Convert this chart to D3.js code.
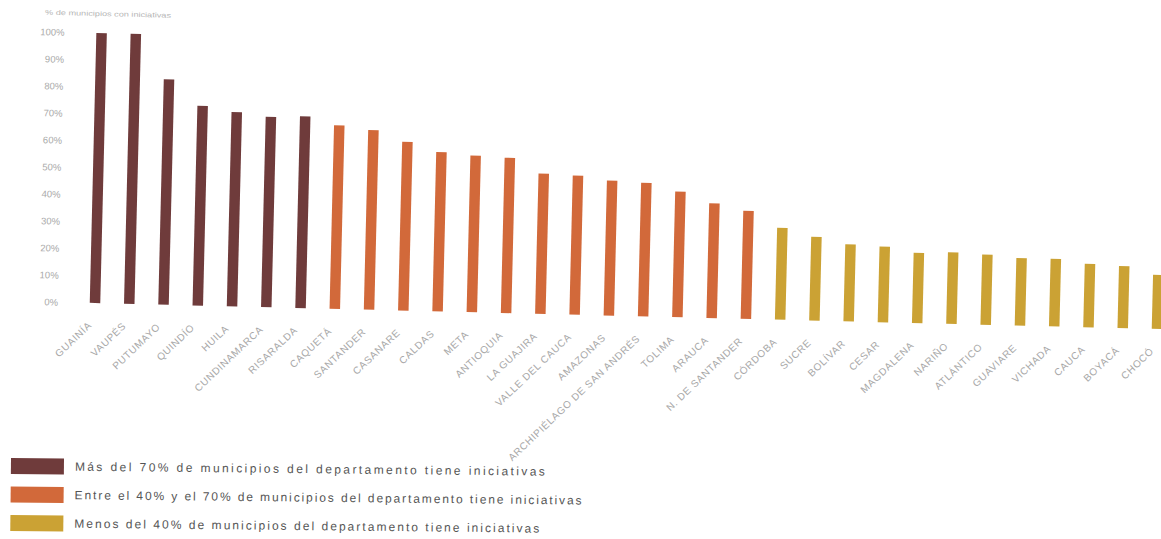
<!DOCTYPE html>
<html>
<head>
<meta charset="utf-8">
<script src="https://cdn.jsdelivr.net/npm/d3@7"></script>
<style>
  html, body { margin: 0; padding: 0; background: #fff; }
  svg { display: block; font-family: "Liberation Sans", Arial, sans-serif; }
</style>
</head>
<body>
<svg id="chart" width="1161" height="539"></svg>
<script>
// ---- Data ----
const categories = [
  "GUAINÍA", "VAUPÉS", "PUTUMAYO", "QUINDÍO", "HUILA", "CUNDINAMARCA", "RISARALDA",
  "CAQUETÁ", "SANTANDER", "CASANARE", "CALDAS", "META", "ANTIOQUIA", "LA GUAJIRA",
  "VALLE DEL CAUCA", "AMAZONAS", "ARCHIPIÉLAGO DE SAN ANDRÉS", "TOLIMA", "ARAUCA",
  "N. DE SANTANDER", "CÓRDOBA", "SUCRE", "BOLÍVAR", "CESAR", "MAGDALENA", "NARIÑO",
  "ATLÁNTICO", "GUAVIARE", "VICHADA", "CAUCA", "BOYACÁ", "CHOCÓ"
];
const values = [
  100, 100, 83.5, 74, 72, 70.5, 71,
  68, 66.5, 62.5, 59, 58, 57.5, 52,
  51.5, 50, 49.5, 46.5, 42.5, 40,
  34, 31, 28.5, 28, 26, 26.5,
  26, 25, 25, 23.5, 23, 20
];
const groups = [
  "alto", "alto", "alto", "alto", "alto", "alto", "alto",
  "medio", "medio", "medio", "medio", "medio", "medio", "medio",
  "medio", "medio", "medio", "medio", "medio", "medio",
  "bajo", "bajo", "bajo", "bajo", "bajo", "bajo",
  "bajo", "bajo", "bajo", "bajo", "bajo", "bajo"
];
const groupKeys = ["alto", "medio", "bajo"];
const groupColors = ["#6f3b3b", "#d2693a", "#cba234"];
const legendLabels = [
  "Más del 70% de municipios del departamento tiene iniciativas",
  "Entre el 40% y el 70% de municipios del departamento tiene iniciativas",
  "Menos del 40% de municipios del departamento tiene iniciativas"
];
const yTicks = [0, 10, 20, 30, 40, 50, 60, 70, 80, 90, 100];
const axisTitle = "% de municipios con iniciativas";

// ---- Layout ----
const svg = d3.select("#chart");
const baseX = 95, baseY = 303, topY = 33;
const tilt = 1.4;

const x = d3.scalePoint().domain(categories).range([baseX, baseX + 1062.3]);
const y = d3.scaleLinear().domain([0, 100]).range([baseY, topY]);
const color = d3.scaleOrdinal().domain(groupKeys).range(groupColors);

const g = svg.append("g").attr("transform", `rotate(${tilt},${baseX},${baseY})`);

// axis title
g.append("text")
  .attr("x", 38).attr("y", 16)
  .attr("font-size", 7).attr("fill", "#b5b5b5")
  .attr("textLength", 126).attr("lengthAdjust", "spacingAndGlyphs")
  .text(axisTitle);

// y axis
const yAxis = d3.axisLeft(y).tickValues(yTicks).tickFormat(d => d + "%").tickSize(0).tickPadding(0);
const ya = g.append("g").attr("transform", "translate(58,0)").call(yAxis);
ya.select(".domain").remove();
ya.selectAll("text").attr("fill", "#aaaaaa").attr("font-size", 9.5)
  .attr("font-family", "'Liberation Sans', Arial, sans-serif");

// bars
const barW = 10.5;
g.selectAll("rect.bar").data(categories).join("rect")
  .attr("class", "bar")
  .attr("x", (d) => x(d) - barW / 2)
  .attr("width", barW)
  .attr("y", (d, i) => y(values[i]))
  .attr("height", (d, i) => y(0) - y(values[i]))
  .attr("fill", (d, i) => color(groups[i]));

// category labels
g.selectAll("text.cat").data(categories).join("text")
  .attr("class", "cat")
  .attr("transform", d => `translate(${x(d) - 2},${baseY + 23}) rotate(-45)`)
  .attr("text-anchor", "end")
  .attr("font-size", 10)
  .attr("letter-spacing", 0.7)
  .attr("fill", "#a8a8a8")
  .text(d => d);

// legend
const legend = svg.append("g").attr("transform", "rotate(0.6,10,460)");
const lg = legend.selectAll("g").data(groupKeys).join("g")
  .attr("transform", (d, i) => `translate(11,${458 + i * 28.5})`);
lg.append("rect").attr("width", 53).attr("height", 16).attr("fill", d => color(d));
const legendWidths = [470, 507, 465];
lg.append("text")
  .attr("x", 64).attr("y", 12)
  .attr("font-size", 12)
  .attr("fill", "#555")
  .attr("textLength", (d, i) => legendWidths[i])
  .attr("lengthAdjust", "spacing")
  .text((d, i) => legendLabels[i]);
</script>
</body>
</html>
